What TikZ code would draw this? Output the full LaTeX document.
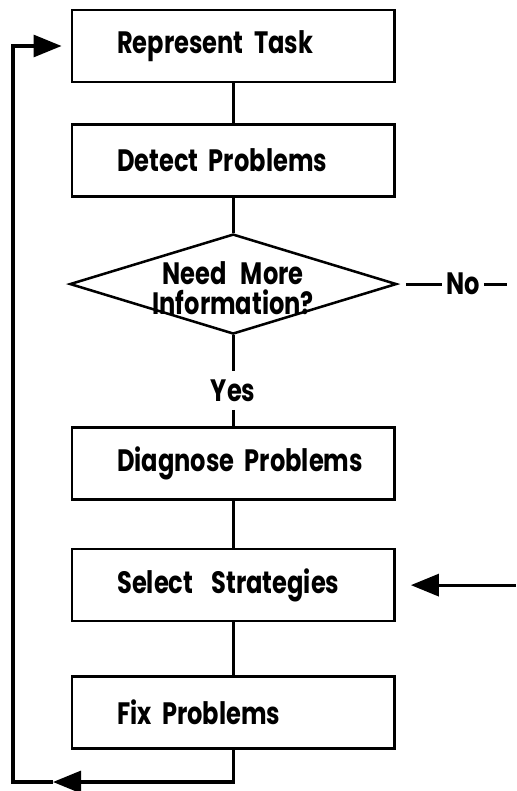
\documentclass[tikz,border=0pt]{standalone}
\usepackage{fontspec}
\setmainfont{Poppins}[FakeStretch=0.78]
\usetikzlibrary{positioning, shapes.geometric, arrows.meta}

\begin{document}
\begin{tikzpicture}[
    font=\fontsize{22pt}{24pt}\selectfont\bfseries,
    block/.style={rectangle, draw, line width=1.8pt, minimum width=8.07cm, minimum height=1.8cm,
                  text width=6.8cm, inner xsep=0.635cm, align=left,
                  execute at begin node={\hspace*{0.5cm}}},
    decision/.style={diamond, draw, line width=1.8pt, minimum width=8.17cm, minimum height=2.5cm, inner sep=0pt},
    line/.style={line width=2.2pt},
    >={Triangle[length=0.7cm, width=0.55cm]}
]
\useasboundingbox (0,0) rectangle (12.9,-19.775);

% Kasten
\node[block] (represent) at (5.83,-1.15) {Represent Task};
\node[block, below=1.0cm of represent] (detect) {Detect Problems};
\node[decision, below=0.875cm of detect] (needinfo) {};
\node[align=center, yshift=-0.1cm] (needinfotext) at (needinfo) {Need\hspace{0.35cm}More\\[-0.1cm]Information?};
\node[below=0.9cm of needinfo, inner sep=0.2cm] (yes) {Yes};
\node[block, below=2.275cm of needinfo] (diagnose) {Diagnose Problems};
\node[block, below=1.175cm of diagnose] (select) {Select\hspace{0.2cm} Strategies};
\node[block, below=1.325cm of select] (fix) {Fix Problems};

% No-Zweig
\node[right=1.1cm of needinfo.east, inner sep=0.1cm] (no) {No};
\coordinate (noend) at (12.675,0 |- needinfo.east);
\coordinate (selectin) at (12.9,0 |- select.east);

% Rueckfuehrung
\coordinate (backtip) at (1.325,-19.55);
\coordinate (corner) at (0.325,-19.55);

% Verbindungen
\draw[line] (represent) -- (detect);
\draw[line] (detect) -- (needinfo);
\draw[line] (needinfo) -- (yes);
\draw[line] (yes) -- (diagnose);
\draw[line] (diagnose) -- (select);
\draw[line] (select) -- (fix);
\draw[line, shorten <=0.2cm] (needinfo.east) -- (no);
\draw[line] (no) -- (noend);
\draw[line, ->, shorten >=0.375cm] (selectin) -- (select.east);
\draw[line, ->] (fix.south) |- (backtip);
\draw[line, ->, shorten >=0.225cm] (backtip) -- (corner) |- (represent.west);

\end{tikzpicture}
\end{document}
